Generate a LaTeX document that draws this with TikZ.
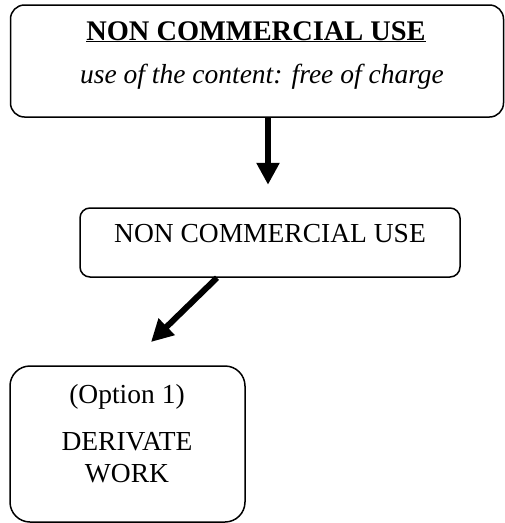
\documentclass[tikz,border=0pt]{standalone}
\usepackage{fontspec}
\setmainfont{Liberation Serif}
\usetikzlibrary{arrows.meta}
\begin{document}
\begin{tikzpicture}[x=1pt,y=-1pt,
  box/.style={draw=black,line width=1.5pt,rounded corners=14pt,inner sep=0pt},
  label/.style={anchor=base,inner sep=0pt,font=\fontsize{27.5}{30}\selectfont},
  bigarrow/.style={line width=6pt,-{Triangle[width=22pt,length=22pt]}}]
  \useasboundingbox (0,0) rectangle (505,523);
  % boxes
  \node[box,minimum width=493pt,minimum height=112pt] (top) at (257,61) {};
  \node[box,minimum width=380pt,minimum height=69pt,rounded corners=10pt] (mid) at (270,242.5) {};
  \node[box,minimum width=235pt,minimum height=156pt,rounded corners=20pt] (bot) at (127.5,444) {};
  % texts
  \node[label,font=\fontsize{28.4}{30}\selectfont\bfseries] (t1) at (256,40) {\underline{NON COMMERCIAL USE}};
  \node[label,font=\fontsize{27.5}{30}\selectfont\itshape] (t2) at (262,83) {use of the content: free of charge};
  \node[label] (m1) at (270,242) {NON COMMERCIAL USE};
  \node[label] (b1) at (127,403) {(Option 1)};
  \node[label] (b2) at (127,450) {DERIVATE};
  \node[label] (b3) at (127,482) {WORK};
  % connectors
  \coordinate (a2end) at (151,342);
  \draw[bigarrow] ([xshift=-2pt]top.south -| mid.north) -- ([yshift=22.5pt,xshift=-2pt]mid.north);
  \draw[bigarrow] ([xshift=-53pt]mid.south) -- (a2end);
\end{tikzpicture}
\end{document}
